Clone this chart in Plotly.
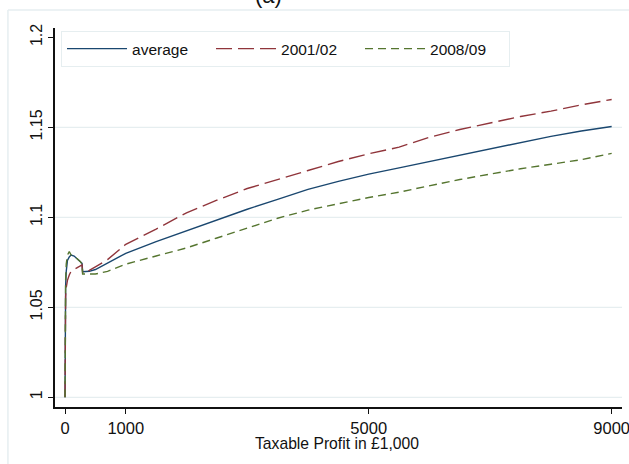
import plotly.graph_objects as go

# Taxable profit (in £1,000) at which each ratio is evaluated
profit = [0, 2, 5, 10, 20, 40, 70, 100, 150, 200, 250, 280, 290, 400, 500, 700,
          1000, 1500, 2000, 2500, 3000, 3500, 4000, 4500, 5000, 5500, 6000,
          6500, 7000, 7500, 8000, 8500, 9000]

average = [1.000, 1.020, 1.050, 1.062, 1.070, 1.076, 1.078, 1.079, 1.0785, 1.077,
           1.0755, 1.0745, 1.0698, 1.070, 1.071, 1.0745, 1.080, 1.0865, 1.0925,
           1.0985, 1.1045, 1.110, 1.1155, 1.120, 1.124, 1.1275, 1.131, 1.1345,
           1.138, 1.1415, 1.145, 1.148, 1.1505]

y2001_02 = [1.000, 1.018, 1.048, 1.056, 1.061, 1.065, 1.068, 1.070, 1.071, 1.072,
            1.073, 1.0736, 1.069, 1.0705, 1.0725, 1.0765, 1.085, 1.0935, 1.1025,
            1.1095, 1.116, 1.1212, 1.126, 1.131, 1.1353, 1.139, 1.1445, 1.1488,
            1.1525, 1.156, 1.159, 1.1625, 1.1655]

y2008_09 = [1.000, 1.020, 1.050, 1.065, 1.074, 1.079, 1.081, 1.079, 1.078, 1.077,
            1.0755, 1.074, 1.0685, 1.0685, 1.0685, 1.070, 1.074, 1.0785, 1.083,
            1.0885, 1.094, 1.0995, 1.104, 1.1075, 1.111, 1.114, 1.1175, 1.121,
            1.124, 1.127, 1.1295, 1.132, 1.1355]

series_names = ["average", "2001/02", "2008/09"]
x_ticks = [0, 1000, 5000, 9000]
y_ticks = [1, 1.05, 1.1, 1.15, 1.2]
y_tick_text = ["1", "1.05", "1.1", "1.15", "1.2"]
grid_levels = [1, 1.05, 1.1, 1.15]

FONT = "Liberation Sans, Arial, sans-serif"
GRID = "#e6eef0"

fig = go.Figure()
styles = [
    dict(color="#1a476f", width=1.4, dash="solid"),
    dict(color="#90353b", width=1.4, dash="16px,6px"),
    dict(color="#55752f", width=1.4, dash="8px,5px"),
]
for name, vals, st in zip(series_names, [average, y2001_02, y2008_09], styles):
    fig.add_trace(go.Scatter(x=profit, y=vals, mode="lines", name=name, line=st))

shapes = []
for g in grid_levels:
    shapes.append(dict(type="line", xref="paper", yref="y", x0=0, x1=1, y0=g, y1=g,
                       line=dict(color=GRID, width=1.2), layer="below"))
# outer graph-region frame (left and top edges)
shapes.append(dict(type="line", xref="paper", yref="paper", x0=-0.083, x1=1.2,
                   y0=1.0475, y1=1.0475, line=dict(color=GRID, width=1.5)))
shapes.append(dict(type="line", xref="paper", yref="paper", x0=-0.083, x1=-0.083,
                   y0=1.0475, y1=-0.25, line=dict(color=GRID, width=1.5)))

fig.update_layout(
    width=629, height=464,
    margin=dict(l=55, r=7, t=28, b=57),
    paper_bgcolor="white", plot_bgcolor="white",
    font=dict(family=FONT, size=17, color="#111"),
    shapes=shapes,
    showlegend=True,
    legend=dict(orientation="h", x=0.0106, y=0.992, xanchor="left", yanchor="top",
                bgcolor="white", bordercolor=GRID, borderwidth=1,
                font=dict(family=FONT, size=15.5), itemwidth=60,
                entrywidth=74, entrywidthmode="pixels"),
    annotations=[
        dict(text="(a)", xref="paper", yref="paper", x=0.376, y=1.048,
             xanchor="center", yanchor="bottom", showarrow=False,
             font=dict(family=FONT, size=22, color="#111")),
        dict(text="Taxable Profit in £1,000", xref="paper", yref="paper",
             x=0.498, y=-0.0950, xanchor="center", yanchor="middle",
             showarrow=False, font=dict(family=FONT, size=15.7, color="#111")),
    ],
    xaxis=dict(range=[-165, 9170], tickvals=x_ticks, ticks="outside", ticklen=5,
               tickcolor="#111", showline=True, linecolor="#111", linewidth=1.5,
               showgrid=False, zeroline=False, ticklabeloverflow="allow",
               automargin=False, tickfont=dict(size=16.5)),
    yaxis=dict(range=[0.9946, 1.2052], tickvals=y_ticks, ticktext=y_tick_text,
               tickangle=-90, ticks="outside", ticklen=5, tickcolor="#111",
               showline=True, linecolor="#111", linewidth=1.5, automargin=False,
               showgrid=False, zeroline=False, tickfont=dict(size=16)),
)

fig.write_html("out.html")
